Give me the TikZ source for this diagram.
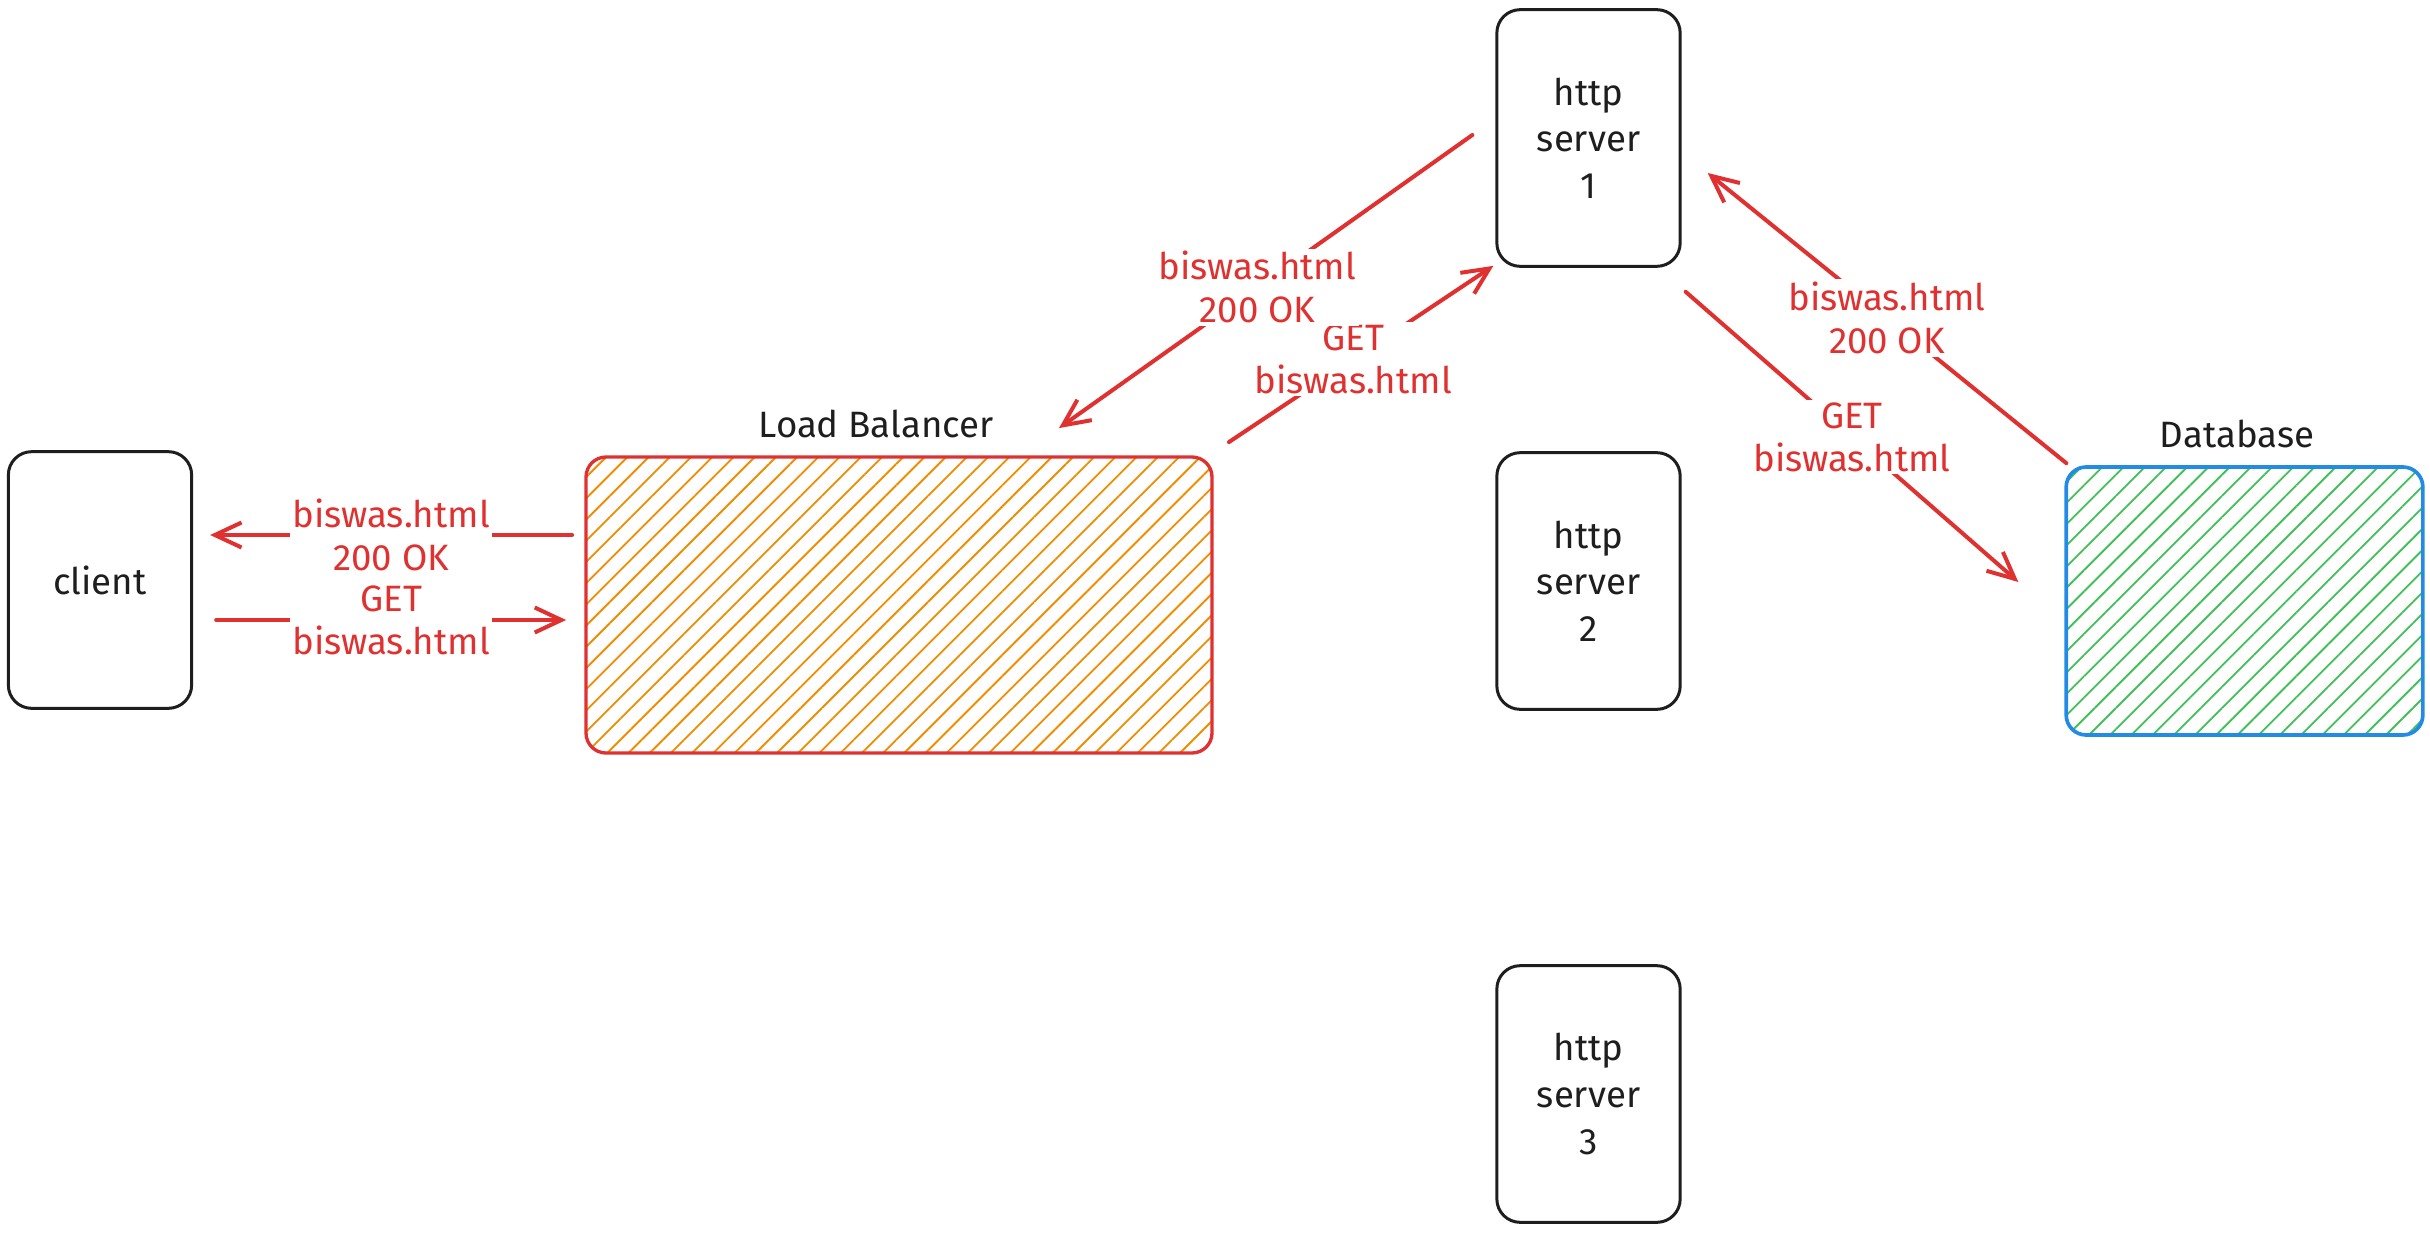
\documentclass[tikz,border=0pt]{standalone}
\usepackage{fontspec}
\setmainfont{Fira Sans}
\usetikzlibrary{arrows.meta,patterns.meta,calc}
\definecolor{exred}{HTML}{E03131}
\definecolor{exorange}{HTML}{F08C00}
\definecolor{exblue}{HTML}{228BE6}
\definecolor{exgreen}{HTML}{40C057}
\definecolor{exblack}{HTML}{1E1E1E}
\begin{document}
\begin{tikzpicture}[x=0.3pt,y=-0.3pt,
  txt/.style={font=\fontsize{11}{14}\selectfont, text=exblack, align=center},
  box/.style={txt, draw=exblack, line width=0.9pt, rounded corners=7pt,
    minimum width=55pt, minimum height=77pt, inner sep=0pt},
  lbbox/.style={draw=exred, line width=1pt, rounded corners=6pt,
    minimum width=187.8pt, minimum height=88.8pt, inner sep=0pt,
    pattern={Lines[angle=45,distance=4.5pt,line width=0.55pt]}, pattern color=exorange},
  dbbox/.style={draw=exblue, line width=1.1pt, rounded corners=6pt,
    minimum width=107pt, minimum height=80.4pt, inner sep=0pt,
    pattern={Lines[angle=45,distance=4.5pt,line width=0.55pt]}, pattern color=exgreen},
  arr/.style={draw=exred, line width=1.2pt, line cap=round,
    -{Straight Barb[length=8pt,width=7.5pt,line width=1.2pt]}},
  lbl/.style={fill=white, text=exred, align=center,
    font=\fontsize{11}{12.9}\selectfont, inner sep=0.8pt}
]
\useasboundingbox (0,0) rectangle (2430,1233);

% nodes
\node[box] (client) at (100,580) {client};
\node[lbbox] (lb) at (899,605) {};
\node[txt] (lbt) at (876,424) {Load Balancer};
\node[box] (s1) at (1588.5,138) {http\\server\\1};
\node[box] (s2) at (1588.5,581) {http\\server\\2};
\node[box] (s3) at (1588.5,1094) {http\\server\\3};
\node[dbbox] (db) at (2244.5,601) {};
\node[txt] (dbt) at (2237,434) {Database};

% connectors
\draw[arr] ($(lb.west)+(-13,-70)$) -- node[lbl]{biswas.html\\200 OK} ($(client.east)+(17,-45)$);
\draw[arr] ($(client.east)+(23,40)$) -- node[lbl]{GET\\biswas.html} ($(lb.west)+(-19,15)$);
\draw[arr] ($(lb.north east)+(16,-14)$) -- node[lbl, pos=0.47]{GET\\biswas.html} ($(s1.south west)+(-2,-2)$);
\draw[arr] ($(s1.west)+(-23,-3)$) -- node[lbl, pos=0.52]{biswas.html\\200 OK} ($(lb.north)+(160,-28)$);
\draw[arr] ($(s1.south east)+(4,24)$) -- node[lbl]{GET\\biswas.html} ($(db.west)+(-46,-19)$);
\draw[arr] ($(db.north west)+(2,-2)$) -- node[lbl]{biswas.html\\200 OK} ($(s1.east)+(26,35)$);
\end{tikzpicture}
\end{document}
